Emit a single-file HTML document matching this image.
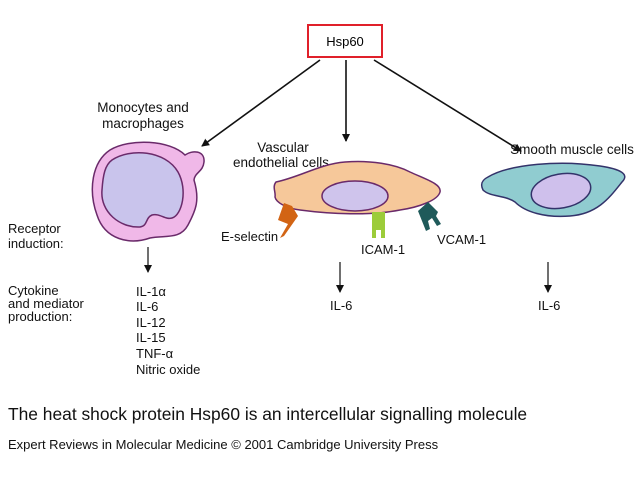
<!DOCTYPE html>
<html><head><meta charset="utf-8"><style>
html,body{margin:0;padding:0;background:#fff;}
svg{display:block;font-family:"Liberation Sans",Arial,sans-serif;}
</style></head><body>
<svg width="638" height="479" viewBox="0 0 638 479" xmlns="http://www.w3.org/2000/svg">
<defs><marker id="a" markerWidth="8" markerHeight="8" refX="7" refY="4" orient="auto" markerUnits="userSpaceOnUse"><path d="M0,0 L8,4 L0,8 z" fill="#111"/></marker></defs>
<rect x="308" y="25" width="74" height="32" fill="#fff" stroke="#e0202a" stroke-width="2"/>
<text x="345" y="46" font-size="13" text-anchor="middle">Hsp60</text>
<line x1="320" y1="60" x2="202" y2="146" stroke="#111" stroke-width="1.6" marker-end="url(#a)"/>
<line x1="346" y1="60" x2="346" y2="141" stroke="#111" stroke-width="1.6" marker-end="url(#a)"/>
<line x1="374" y1="60" x2="521" y2="151" stroke="#111" stroke-width="1.6" marker-end="url(#a)"/>
<g font-size="13.5" fill="#111" text-anchor="middle">
<text x="143" y="112">Monocytes and</text><text x="143" y="128">macrophages</text>
<text x="283" y="152">Vascular</text><text x="281" y="167">endothelial cells</text>
<text x="572" y="154">Smooth muscle cells</text>
</g>
<path d="M110,150 C130,138 170,140 185,155 C192,150 205,150 204,162 C203,172 195,172 194,180 C200,200 196,210 188,225 C180,240 165,235 150,238 C130,245 105,240 97,215 C88,190 92,162 110,150 Z" fill="#f0b8e8" stroke="#6a2a6a" stroke-width="1.5"/>
<path d="M112,160 C130,148 165,150 178,172 C188,190 182,215 172,218 C165,220 160,213 152,215 C145,218 148,226 140,227 C120,228 100,212 102,190 C103,175 105,165 112,160 Z" fill="#c9c4ec" stroke="#6a2a6a" stroke-width="1.5"/>
<path d="M276,182 C300,177 320,164 345,162 C370,160 395,164 410,172 C425,179 442,184 440,192 C438,200 420,207 400,210 C370,216 330,214 300,210 C285,208 276,202 275,197 C276,192 272,187 276,182 Z" fill="#f6c89a" stroke="#6a2a6a" stroke-width="1.5"/>
<ellipse cx="355" cy="196" rx="33" ry="15" fill="#cfc4ec" stroke="#6a2a6a" stroke-width="1.5"/>
<path d="M284,203 L292,206 L298,216 L284,236 L280,238 L288,224 L278,220 Z" fill="#d26414"/>
<rect x="372" y="212" width="13" height="18" fill="#9ccc3a"/><rect x="372" y="228" width="4" height="10" fill="#9ccc3a"/><rect x="381" y="228" width="4" height="10" fill="#9ccc3a"/>
<path d="M418,211 L428,202 L438,212 L436,216 L441,224 L437,226 L432,218 L428,221 L430,229 L426,231 L422,221 Z" fill="#1f5a5a"/>
<path d="M488,177 C510,164 560,160 600,166 C620,169 630,174 622,182 C610,197 598,214 570,216 C545,218 525,212 515,202 C505,195 490,197 483,190 C480,184 482,180 488,177 Z" fill="#90ccd0" stroke="#33336a" stroke-width="1.5"/>
<ellipse cx="561" cy="191" rx="30" ry="17" transform="rotate(-10 561 191)" fill="#cfc0ec" stroke="#33336a" stroke-width="1.5"/>
<g font-size="13" fill="#111">
<text x="221" y="241">E-selectin</text>
<text x="361" y="254">ICAM-1</text>
<text x="437" y="244">VCAM-1</text>
<text x="8" y="233">Receptor</text><text x="8" y="248">induction:</text>
<text x="8" y="295">Cytokine</text><text x="8" y="308">and mediator</text><text x="8" y="321">production:</text>
<text x="136" y="296">IL-1α</text><text x="136" y="311">IL-6</text><text x="136" y="327">IL-12</text><text x="136" y="342">IL-15</text><text x="136" y="358">TNF-α</text><text x="136" y="374">Nitric oxide</text>
<text x="330" y="310">IL-6</text><text x="538" y="310">IL-6</text>
</g>
<line x1="148" y1="247" x2="148" y2="272" stroke="#111" stroke-width="1.2" marker-end="url(#a)"/>
<line x1="340" y1="262" x2="340" y2="292" stroke="#111" stroke-width="1.2" marker-end="url(#a)"/>
<line x1="548" y1="262" x2="548" y2="292" stroke="#111" stroke-width="1.2" marker-end="url(#a)"/>
<text x="8" y="420" font-size="17.4" fill="#111">The heat shock protein Hsp60 is an intercellular signalling molecule</text>
<text x="8" y="449" font-size="13" fill="#111">Expert Reviews in Molecular Medicine © 2001 Cambridge University Press</text>
</svg>
</body></html>
